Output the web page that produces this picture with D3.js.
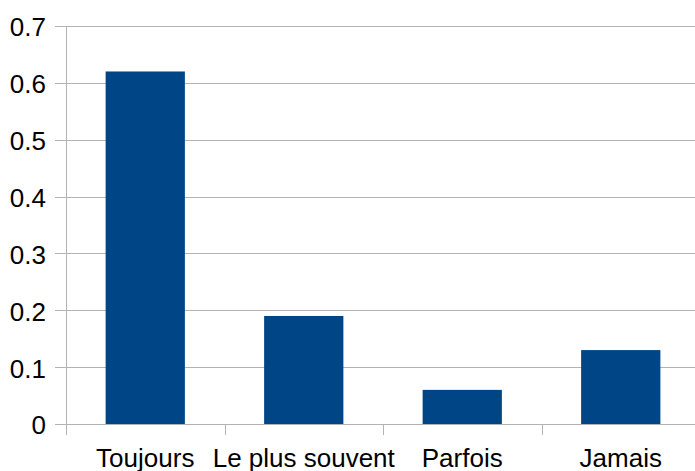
<!DOCTYPE html>
<html>
<head>
<meta charset="utf-8">
<script src="https://cdn.jsdelivr.net/npm/d3@7"></script>
<style>
  body { margin: 0; background: #fff; }
  text { font-family: "Liberation Sans", Arial, sans-serif; fill: #000; }
</style>
</head>
<body>
<div id="chart"></div>
<script>
const categories = ['Toujours', 'Le plus souvent', 'Parfois', 'Jamais'];
const values = [0.62, 0.19, 0.06, 0.13];
const yTicks = [0, 0.1, 0.2, 0.3, 0.4, 0.5, 0.6, 0.7];

const width = 695;
const height = 471;
const margin = { top: 26, right: -5, bottom: 47, left: 66 };
const innerW = width - margin.left - margin.right;
const innerH = height - margin.top - margin.bottom;

const svg = d3.select('#chart').append('svg')
  .attr('width', width)
  .attr('height', height);

const g = svg.append('g')
  .attr('transform', `translate(${margin.left}, ${margin.top})`);

const x = d3.scaleBand()
  .domain(categories)
  .range([0, innerW])
  .paddingInner(0.5)
  .paddingOuter(0.25);

const y = d3.scaleLinear()
  .domain([0, 0.7])
  .range([innerH, 0]);

// grid lines + left ticks
g.selectAll('.grid')
  .data(yTicks)
  .enter().append('line')
  .attr('x1', -11)
  .attr('x2', innerW)
  .attr('y1', d => Math.round(y(d)) + 0.5)
  .attr('y2', d => Math.round(y(d)) + 0.5)
  .attr('stroke', '#b3b3b3')
  .attr('stroke-width', 1);

g.selectAll('.ylab')
  .data(yTicks)
  .enter().append('text')
  .attr('x', -20)
  .attr('y', d => y(d))
  .attr('dy', '0.4em')
  .attr('text-anchor', 'end')
  .style('font-size', '26px')
  .text(d => d === 0 ? '0' : d3.format('.1f')(d));

// y axis line
g.append('line')
  .attr('x1', 0.5).attr('x2', 0.5)
  .attr('y1', 0).attr('y2', innerH)
  .attr('stroke', '#b3b3b3');

// bars
g.selectAll('.bar')
  .data(values)
  .enter().append('rect')
  .attr('x', (d, i) => x(categories[i]))
  .attr('y', d => y(d))
  .attr('width', x.bandwidth())
  .attr('height', d => innerH - y(d))
  .attr('fill', '#004586');

// category boundary ticks
const step = x.step();
g.selectAll('.xtick')
  .data(categories)
  .enter().append('line')
  .attr('x1', (d, i) => Math.round(i * step) + 0.5)
  .attr('x2', (d, i) => Math.round(i * step) + 0.5)
  .attr('y1', innerH)
  .attr('y2', innerH + 11)
  .attr('stroke', '#b3b3b3');

g.selectAll('.xlab')
  .data(categories)
  .enter().append('text')
  .attr('x', d => x(d) + x.bandwidth() / 2)
  .attr('y', innerH + 43)
  .attr('text-anchor', 'middle')
  .style('font-size', '26px')
  .text(d => d);
</script>
</body>
</html>
